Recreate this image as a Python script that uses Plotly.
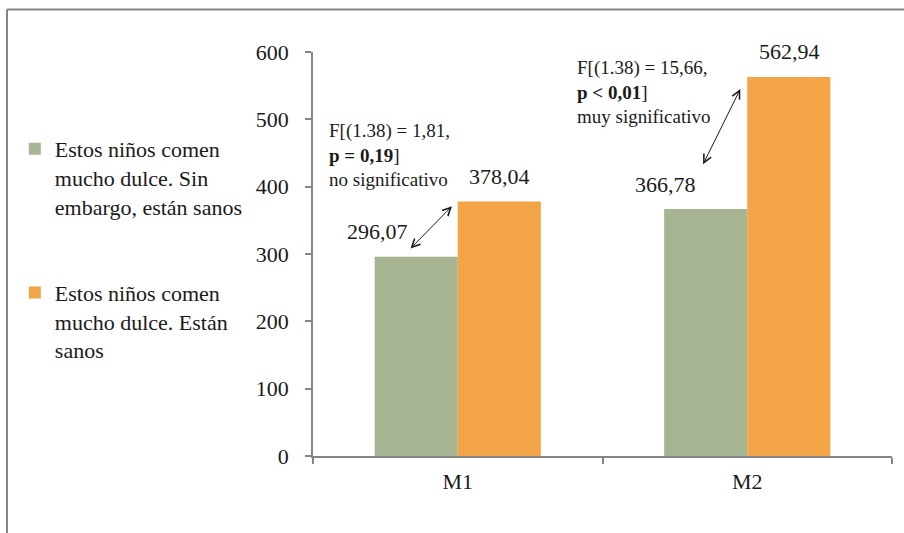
import plotly.graph_objects as go

categories = ["M1", "M2"]
series_names = [
    "Estos niños comen<br>mucho dulce. Sin<br>embargo, están sanos",
    "Estos niños comen<br>mucho dulce. Están<br>sanos",
]
values_sin_embargo = [296.07, 366.78]
values_estan = [378.04, 562.94]
value_labels_sin = ["296,07", "366,78"]
value_labels_estan = ["378,04", "562,94"]
y_ticks = [0, 100, 200, 300, 400, 500, 600]
stat_texts = [
    "F[(1.38) = 1,81,<br><b>p = 0,19</b>]<br>no significativo",
    "F[(1.38) = 15,66,<br><b>p < 0,01</b>]<br>muy significativo",
]

GREEN = "rgb(166,180,146)"
ORANGE = "rgb(242,164,70)"
AXIS = "#868686"
FONT = "Liberation Serif"
TXT = "#1a1a1a"

fig = go.Figure()
fig.add_trace(go.Bar(x=categories, y=values_sin_embargo, name=series_names[0],
                     marker=dict(color=GREEN, line=dict(width=0)), legendgroup="a"))
fig.add_trace(go.Bar(x=categories, y=values_estan, name=series_names[1],
                     marker=dict(color=ORANGE, line=dict(width=0)), legendgroup="b"))

annotations = []
sin_shift = [-80, -82]
for i, c in enumerate(categories):
    annotations.append(dict(x=c, y=values_sin_embargo[i], text=value_labels_sin[i],
                            xref="x", yref="y", showarrow=False, xshift=sin_shift[i], yshift=25,
                            font=dict(size=22, color=TXT, family=FONT)))
    annotations.append(dict(x=c, y=values_estan[i], text=value_labels_estan[i],
                            xref="x", yref="y", showarrow=False, xshift=42, yshift=25,
                            font=dict(size=22, color=TXT, family=FONT)))

annotations.append(dict(x=0.024, y=0.745, xref="paper", yref="paper", text=stat_texts[0],
                        showarrow=False, xanchor="left", yanchor="middle", align="left",
                        font=dict(size=19, color=TXT, family=FONT)))
annotations.append(dict(x=0.4525, y=0.901, xref="paper", yref="paper", text=stat_texts[1],
                        showarrow=False, xanchor="left", yanchor="middle", align="left",
                        font=dict(size=19, color=TXT, family=FONT)))

arrows = [((-0.02, 371), (-0.168, 306)), ((0.976, 545), (0.845, 431))]
for (hx, hy), (tx, ty) in arrows:
    annotations.append(dict(x=hx, y=hy, ax=tx, ay=ty, xref="x", yref="y", axref="x", ayref="y",
                            text="", showarrow=True, arrowhead=5, startarrowhead=5,
                            arrowside="end+start", arrowsize=1.6, startarrowsize=1.6,
                            arrowwidth=1, arrowcolor=TXT, standoff=0, startstandoff=0))

fig.update_layout(
    width=904, height=533,
    margin=dict(l=313, r=12, t=52, b=77),
    paper_bgcolor="white", plot_bgcolor="white",
    barmode="group", bargap=0.426, bargroupgap=0,
    font=dict(family=FONT, size=21, color=TXT),
    showlegend=True,
    legend=dict(x=-0.515, y=0.812, xanchor="left", yanchor="top",
                font=dict(size=22, family=FONT, color=TXT),
                traceorder="grouped", tracegroupgap=55, valign="top",
                bgcolor="rgba(0,0,0,0)", itemclick=False),
    annotations=annotations,
    shapes=[
        dict(type="line", xref="paper", yref="paper", x0=-0.5285, x1=-0.5285, y0=1.105, y1=-0.3,
             line=dict(color=AXIS, width=2)),
        dict(type="line", xref="paper", yref="paper", x0=-0.5285, x1=1.1, y0=1.105, y1=1.105,
             line=dict(color=AXIS, width=2)),
    ],
)
fig.update_xaxes(showline=True, linecolor=AXIS, linewidth=1.5, ticks="outside", ticklen=6,
                 tickcolor=AXIS, tickwidth=1.5, tickson="boundaries", showgrid=False,
                 tickfont=dict(size=22, family=FONT, color=TXT), ticklabelstandoff=5,
                 fixedrange=True)
fig.update_yaxes(range=[0, 600], tickvals=y_ticks, showline=True, linecolor=AXIS, linewidth=1.5,
                 ticks="outside", ticklen=6, tickcolor=AXIS, tickwidth=1.5, showgrid=False,
                 zeroline=False, tickfont=dict(size=22, family=FONT, color=TXT),
                 ticklabelstandoff=12, fixedrange=True)

fig.write_html("out.html", config={"displayModeBar": False},
               post_script="document.body.style.margin='0';")
